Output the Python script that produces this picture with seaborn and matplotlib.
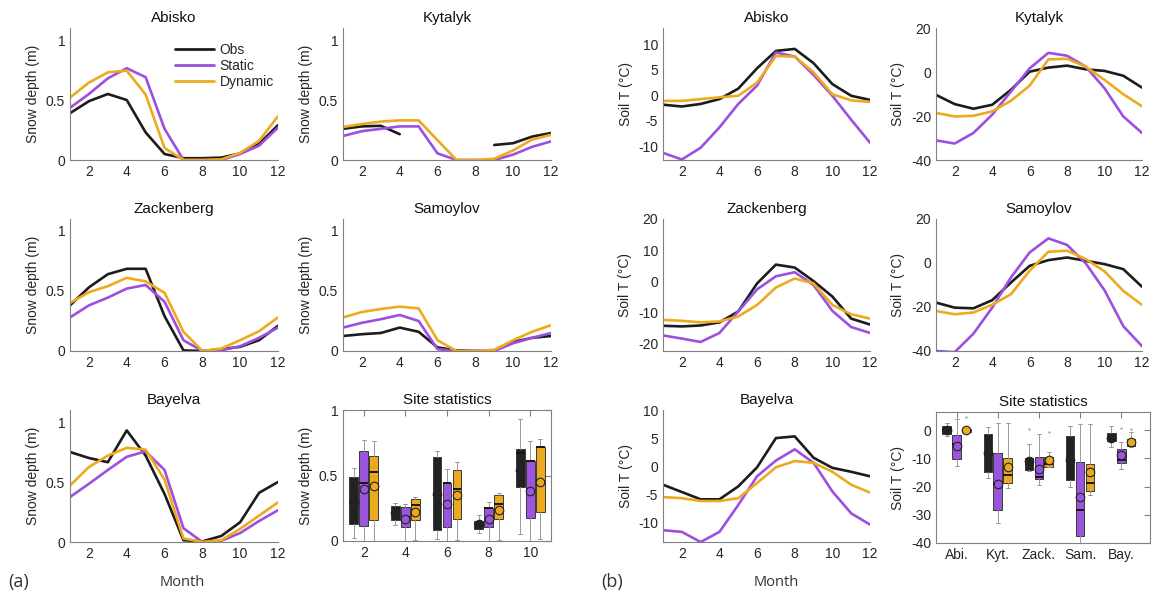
import numpy as np
import pandas as pd
import matplotlib
matplotlib.use("Agg")
import matplotlib.pyplot as plt
from matplotlib.ticker import AutoMinorLocator
import seaborn as sns

sns.set_style("white")
plt.rcParams['font.family'] = ['Liberation Sans', 'DejaVu Sans']
plt.rcParams['xtick.direction'] = 'in'
plt.rcParams['ytick.direction'] = 'in'

months = np.arange(1, 13)
nan = np.nan

# snow depth (m), Obs / Static / Dynamic
snow_obs = {
    'Abisko':     [0.39, 0.49, 0.55, 0.50, 0.23, 0.05, 0.015, 0.015, 0.02, 0.055, 0.135, 0.29],
    'Kytalyk':    [0.26, 0.28, 0.285, 0.215, nan, nan, nan, nan, 0.125, 0.14, 0.195, 0.225],
    'Zackenberg': [0.38, 0.53, 0.64, 0.685, 0.685, 0.29, 0.005, 0.0, 0.015, 0.035, 0.09, 0.21],
    'Samoylov':   [0.125, 0.14, 0.15, 0.195, 0.16, 0.03, 0.005, 0.0, 0.005, 0.075, 0.11, 0.125],
    'Bayelva':    [0.75, 0.70, 0.665, 0.93, 0.72, 0.40, 0.015, 0.005, 0.05, 0.165, 0.41, 0.50],
}
snow_static = {
    'Abisko':     [0.435, 0.55, 0.68, 0.765, 0.69, 0.26, 0.0, 0.0, 0.0, 0.05, 0.12, 0.27],
    'Kytalyk':    [0.20, 0.24, 0.26, 0.28, 0.28, 0.055, 0.0, 0.0, 0.0, 0.045, 0.11, 0.155],
    'Zackenberg': [0.28, 0.38, 0.445, 0.52, 0.55, 0.41, 0.09, 0.0, 0.005, 0.04, 0.11, 0.195],
    'Samoylov':   [0.195, 0.235, 0.265, 0.30, 0.25, 0.015, 0.0, 0.0, 0.0, 0.065, 0.11, 0.15],
    'Bayelva':    [0.375, 0.485, 0.60, 0.71, 0.755, 0.60, 0.115, 0.0, 0.01, 0.075, 0.175, 0.265],
}
snow_dynamic = {
    'Abisko':     [0.52, 0.645, 0.73, 0.745, 0.545, 0.10, 0.0, 0.0, 0.005, 0.06, 0.16, 0.365],
    'Kytalyk':    [0.275, 0.30, 0.32, 0.33, 0.33, 0.165, 0.0, 0.0, 0.01, 0.08, 0.17, 0.21],
    'Zackenberg': [0.40, 0.49, 0.54, 0.61, 0.58, 0.485, 0.16, 0.0, 0.02, 0.09, 0.165, 0.28],
    'Samoylov':   [0.28, 0.325, 0.35, 0.37, 0.355, 0.09, 0.0, 0.0, 0.01, 0.09, 0.16, 0.215],
    'Bayelva':    [0.47, 0.625, 0.72, 0.785, 0.77, 0.52, 0.03, 0.0, 0.015, 0.11, 0.22, 0.33],
}

# soil temperature (degC)
soil_obs = {
    'Abisko':     [-1.85, -2.2, -1.7, -0.75, 1.3, 5.3, 8.7, 9.1, 6.3, 2.2, -0.1, -0.9],
    'Kytalyk':    [-10.4, -14.6, -16.7, -14.9, -8.1, 0.15, 2.0, 2.9, 1.2, 0.5, -1.7, -7.1],
    'Zackenberg': [-14.3, -14.5, -14.2, -13.2, -9.7, -0.7, 5.35, 4.4, 0.05, -4.9, -12.0, -13.9],
    'Samoylov':   [-18.0, -20.3, -20.6, -16.9, -8.9, -1.3, 1.3, 2.5, 1.0, -0.5, -2.8, -10.8],
    'Bayelva':    [-3.3, -4.6, -5.9, -5.9, -3.6, -0.2, 5.0, 5.3, 1.5, -0.3, -1.0, -1.8],
}
soil_static = {
    'Abisko':     [-11.3, -12.6, -10.3, -6.3, -1.7, 1.9, 8.4, 7.6, 4.0, -0.1, -4.8, -9.3],
    'Kytalyk':    [-31.1, -32.5, -27.7, -19.4, -8.9, 1.65, 8.7, 7.4, 2.4, -7.4, -20.2, -27.7],
    'Zackenberg': [-17.4, -18.4, -19.5, -16.6, -9.7, -2.6, 1.6, 2.9, -1.2, -9.5, -14.7, -16.6],
    'Samoylov':   [-40.0, -40.5, -32.1, -20.3, -6.6, 4.8, 11.2, 8.2, -0.2, -12.4, -28.7, -37.8],
    'Bayelva':    [-11.4, -11.7, -13.5, -11.7, -6.9, -1.8, 1.0, 3.0, 0.6, -4.5, -8.4, -10.4],
}
soil_dynamic = {
    'Abisko':     [-1.1, -1.1, -0.75, -0.4, -0.1, 2.5, 7.7, 7.6, 4.5, 0.2, -1.0, -1.3],
    'Kytalyk':    [-18.6, -20.2, -19.9, -17.9, -13.1, -6.2, 5.7, 6.0, 2.4, -3.6, -10.1, -15.6],
    'Zackenberg': [-12.4, -12.7, -13.2, -12.9, -11.3, -7.6, -2.0, 0.9, -0.7, -7.6, -10.6, -12.0],
    'Samoylov':   [-21.8, -23.3, -22.5, -19.0, -14.2, -3.5, 5.1, 5.6, 1.8, -3.8, -12.7, -19.0],
    'Bayelva':    [-5.5, -5.7, -6.2, -6.2, -5.7, -3.0, -0.2, 0.9, 0.6, -1.0, -3.3, -4.7],
}

# box statistics per site (Obs, Static, Dynamic): whislo, q1, med, q3, whishi, mean
snow_box_pos = [2, 4, 6, 8, 10]
snow_box = {
    'Obs':     [(0.02, 0.13, 0.30, 0.49, 0.555, 0.30), (0.12, 0.16, 0.21, 0.27, 0.29, 0.21),
                (0.015, 0.085, 0.36, 0.64, 0.69, 0.36), (0.06, 0.09, 0.127, 0.15, 0.195, 0.127),
                (0.055, 0.41, 0.67, 0.705, 0.93, 0.54)],
    'Static':  [(0.0, 0.117, 0.445, 0.69, 0.77, 0.40), (0.0, 0.105, 0.185, 0.26, 0.28, 0.17),
                (0.0, 0.11, 0.445, 0.445, 0.55, 0.28), (0.0, 0.11, 0.25, 0.25, 0.295, 0.17),
                (0.0, 0.175, 0.61, 0.61, 0.76, 0.385)],
    'Dynamic': [(0.0, 0.16, 0.53, 0.65, 0.76, 0.42), (0.005, 0.16, 0.275, 0.32, 0.335, 0.225),
                (0.01, 0.165, 0.40, 0.54, 0.605, 0.35), (0.01, 0.165, 0.28, 0.35, 0.37, 0.24),
                (0.015, 0.225, 0.72, 0.72, 0.78, 0.45)],
}
soil_box_labels = ['Abi.', 'Kyt.', 'Zack.', 'Sam.', 'Bay.']
soil_box = {
    'Obs':     [(-1.9, -1.4, 0.0, 1.4, 2.7, 0.2), (-16.8, -14.7, -8.0, -1.2, 1.2, -7.9),
                (-14.5, -14.1, -12.1, -10.0, -4.7, -10.8), (-20.0, -17.6, -10.0, -2.0, 1.4, -10.6),
                (-5.9, -3.9, -2.5, -0.9, 1.5, -2.7)],
    'Static':  [(-12.6, -10.2, -5.0, -1.5, 4.1, -5.6), (-32.9, -28.2, -19.0, -8.2, 2.7, -19.2),
                (-19.4, -17.4, -16.7, -9.6, -1.2, -13.8), (-40.0, -37.4, -28.2, -11.3, 2.4, -23.5),
                (-13.6, -11.5, -10.4, -6.7, -4.1, -8.6)],
    'Dynamic': [(-1.0, -0.6, 0.0, 0.6, 1.0, 0.0), (-20.6, -18.6, -15.9, -10.0, 2.6, -12.9),
                (-13.2, -12.9, -11.8, -9.6, -7.6, -10.6), (-22.9, -21.4, -18.8, -12.1, 2.4, -14.7),
                (-6.1, -5.6, -3.9, -3.2, -0.7, -4.1)],
}
soil_box_fliers = {
    'Obs':     [[], [], [0.4], [], []],
    'Static':  [[], [], [], [], [0.9]],
    'Dynamic': [[4.7], [], [-0.6], [], [0.6]],
}

colors = {'Obs': '#1c1c1c', 'Static': '#9d4fe0', 'Dynamic': '#eeaa1e'}
box_colors = {'Obs': '#222222', 'Static': '#9b55dc', 'Dynamic': '#eba920'}
offsets = {'Obs': -0.48, 'Static': 0.0, 'Dynamic': 0.48}
spine_col = '#808080'
text_col = '#262626'

W, H = 1153, 594
fig = plt.figure(figsize=(W / 100, H / 100), dpi=100)


def add_ax(x0, x1, y0, y1):
    return fig.add_axes([x0 / W, 1 - y1 / H, (x1 - x0) / W, (y1 - y0) / H])


def style(ax, boxed=False):
    for s in ['left', 'bottom', 'top', 'right']:
        ax.spines[s].set_color(spine_col)
        ax.spines[s].set_linewidth(0.8)
    if not boxed:
        ax.spines['top'].set_visible(False)
        ax.spines['right'].set_visible(False)
    ax.tick_params(axis='both', which='both', colors=spine_col, labelcolor=text_col,
                   labelsize=10, direction='in', top=boxed, right=boxed)
    ax.tick_params(which='major', length=4)
    ax.tick_params(which='minor', length=2)


def draw(ax, y, color, label):
    y = np.asarray(y, float)
    ok = ~np.isnan(y)
    groups = np.cumsum(~ok)
    first = True
    for g in np.unique(groups[ok]):
        m = ok & (groups == g)
        sns.lineplot(x=months[m], y=y[m], color=color, lw=1.9, ax=ax,
                     label=label if first else None)
        first = False


def line_panel(ax, site, obs, sta, dyn, ylim, yticks, yticklabels, minor, ylabel):
    draw(ax, obs[site], colors['Obs'], 'Obs')
    draw(ax, sta[site], colors['Static'], 'Static')
    draw(ax, dyn[site], colors['Dynamic'], 'Dynamic')
    leg = ax.get_legend()
    if leg is not None:
        leg.remove()
    ax.set_xlim(1, 12)
    ax.set_ylim(*ylim)
    ax.set_xticks([2, 4, 6, 8, 10, 12])
    ax.set_yticks(yticks)
    ax.set_yticklabels(yticklabels)
    ax.yaxis.set_minor_locator(AutoMinorLocator(minor))
    ax.set_title(site, fontsize=11, color='#111111', pad=4)
    ax.set_ylabel(ylabel, fontsize=10, color=text_col)
    ax.set_xlabel('')
    style(ax)


def box_panel(ax, stats, positions, fliers=None):
    for key in ['Obs', 'Static', 'Dynamic']:
        bst = []
        for i, (lo, q1, med, q3, hi, mn) in enumerate(stats[key]):
            fl = fliers[key][i] if fliers is not None else []
            bst.append(dict(whislo=lo, q1=q1, med=med, q3=q3, whishi=hi, fliers=fl, mean=mn))
        pos = [p + offsets[key] for p in positions]
        ax.bxp(bst, positions=pos, widths=0.42, patch_artist=True, showfliers=True,
               capwidths=0.2, manage_ticks=False,
               boxprops=dict(facecolor=box_colors[key], edgecolor='#3a3a3a', linewidth=0.7),
               medianprops=dict(color='#151515', linewidth=1.4),
               whiskerprops=dict(color='#999999', linewidth=0.7),
               capprops=dict(color='#999999', linewidth=0.7),
               flierprops=dict(marker='.', markersize=1.5, markerfacecolor='#aaaaaa',
                               markeredgecolor='#aaaaaa'))
        means = [s[5] for s in stats[key]]
        sns.scatterplot(x=pos, y=means, ax=ax, s=38, color=box_colors[key],
                        edgecolor='#222222', linewidth=0.8, zorder=5, legend=False)
    ax.set_title('Site statistics', fontsize=11, color='#111111', pad=4)
    style(ax, boxed=True)


snow_cols = [(70, 278), (343, 551)]
soil_cols = [(663, 870), (936, 1142)]
rows = [(28, 160), (219, 351), (410, 542)]
layout = [('Abisko', 0, 0), ('Kytalyk', 0, 1), ('Zackenberg', 1, 0),
          ('Samoylov', 1, 1), ('Bayelva', 2, 0)]

soil_lims = {'Abisko': (-12.7, 13.2), 'Kytalyk': (-40, 20), 'Zackenberg': (-22.4, 20),
             'Samoylov': (-40, 20), 'Bayelva': (-13.5, 10)}
soil_ticks = {'Abisko': [-10, -5, 0, 5, 10], 'Kytalyk': [-40, -20, 0, 20],
              'Zackenberg': [-20, -10, 0, 10, 20], 'Samoylov': [-40, -20, 0, 20],
              'Bayelva': [-10, -5, 0, 5, 10]}
soil_minor = {'Abisko': 5, 'Kytalyk': 4, 'Zackenberg': 5, 'Samoylov': 4, 'Bayelva': 5}

for site, r, c in layout:
    y0, y1 = rows[r]
    ax = add_ax(snow_cols[c][0], snow_cols[c][1], y0, y1)
    line_panel(ax, site, snow_obs, snow_static, snow_dynamic, (0, 1.1),
               [0, 0.5, 1], ['0', '0.5', '1'], 2, 'Snow depth (m)')
    if site == 'Abisko':
        h = [plt.Line2D([], [], color=colors[k], lw=2) for k in ['Obs', 'Static', 'Dynamic']]
        ax.legend(h, ['Obs', 'Static', 'Dynamic'], loc='upper right', frameon=False,
                  fontsize=10, handlelength=2.8, handletextpad=0.4, labelspacing=0.15,
                  bbox_to_anchor=(1.04, 0.98))

    ax = add_ax(soil_cols[c][0], soil_cols[c][1], y0, y1)
    t = soil_ticks[site]
    line_panel(ax, site, soil_obs, soil_static, soil_dynamic, soil_lims[site],
               t, [str(v) for v in t], soil_minor[site], 'Soil T (°C)')

# snow statistics
ax = add_ax(343, 551, 410, 541)
box_panel(ax, snow_box, snow_box_pos)
ax.set_xlim(1, 11)
ax.set_ylim(0, 1)
ax.set_xticks(snow_box_pos)
ax.set_xticklabels([str(p) for p in snow_box_pos])
ax.set_yticks([0, 0.5, 1])
ax.set_yticklabels(['0', '0.5', '1'])
ax.set_ylabel('Snow depth (m)', fontsize=10, color=text_col)

# soil statistics
ax = add_ax(936, 1150, 412, 543)
box_panel(ax, soil_box, snow_box_pos, soil_box_fliers)
ax.set_xlim(1, 11.4)
ax.set_ylim(-40, 6.5)
ax.set_xticks(snow_box_pos)
ax.set_xticklabels(soil_box_labels)
ax.set_yticks([-40, -30, -20, -10, 0])
ax.set_yticklabels(['-40', '-30', '-20', '-10', '0'])
ax.set_ylabel('Soil T (°C)', fontsize=10, color=text_col)

fig.text(182 / W, 1 - 582 / H, 'Month', ha='center', va='center', fontsize=10.5,
         color='#333333', family=['Open Sans', 'DejaVu Sans'])
fig.text(776 / W, 1 - 582 / H, 'Month', ha='center', va='center', fontsize=10.5,
         color='#333333', family=['Open Sans', 'DejaVu Sans'])
fig.text(8 / W, 1 - 582 / H, '(a)', ha='left', va='center', fontsize=13,
         color='#333333', family=['Open Sans', 'DejaVu Sans'])
fig.text(601 / W, 1 - 582 / H, '(b)', ha='left', va='center', fontsize=13,
         color='#333333', family=['Open Sans', 'DejaVu Sans'])

fig.savefig('out.png', dpi=100, facecolor='white')
